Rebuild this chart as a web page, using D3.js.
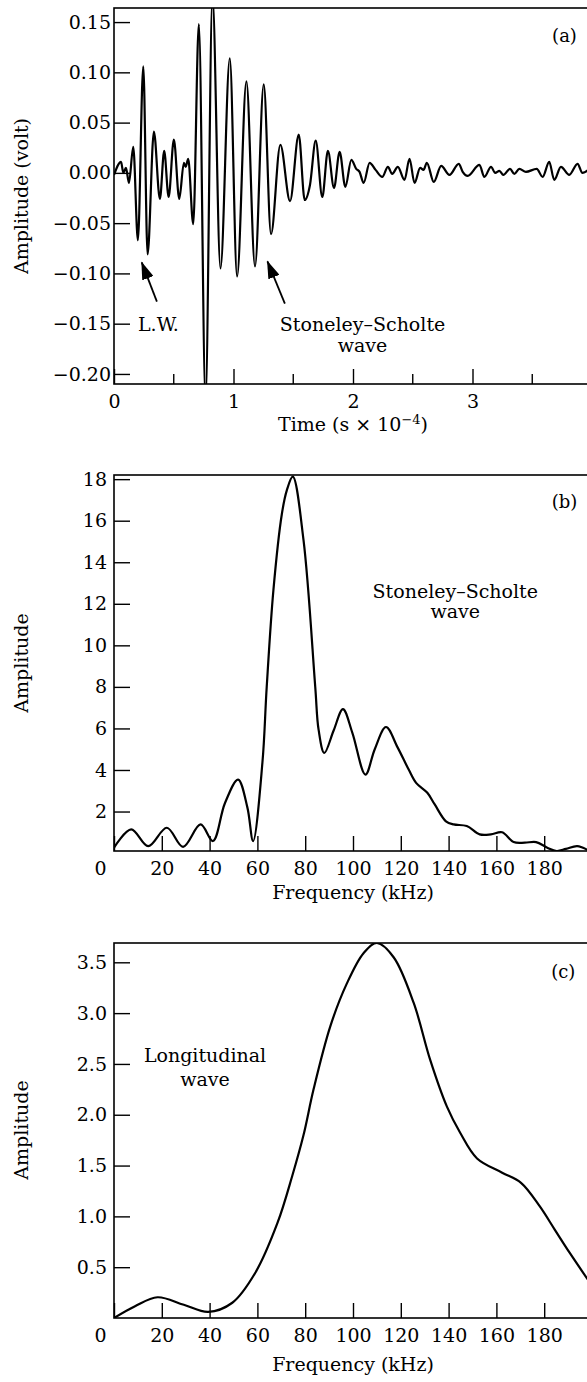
<!DOCTYPE html>
<html lang="en">
<meta charset="utf-8">
<head>
    <script src="https://d3js.org/d3.v7.min.js"></script>
    <style>
        body { margin: 0; background: #fff; }
        text { font-family: "DejaVu Serif", serif; fill: #000; }
    </style>
</head>
<body>
<script>

// panel (a): waveform, time in units of 1e-4 s, amplitude in volt (extrema)
const timeA = [0.0, 0.059, 0.078, 0.10, 0.125, 0.161, 0.20, 0.245, 0.281, 0.334, 0.384, 0.42, 0.457, 0.501, 0.546,
    0.585, 0.60, 0.621, 0.663, 0.710, 0.766, 0.824, 0.891, 0.969, 1.03, 1.108, 1.18, 1.253, 1.314, 1.392,
    1.473, 1.546, 1.596, 1.64, 1.688, 1.743, 1.79, 1.841, 1.888, 1.936, 1.986, 2.027, 2.055, 2.089, 2.139,
    2.189, 2.245, 2.292, 2.328, 2.375, 2.431, 2.473, 2.515, 2.562, 2.59, 2.618, 2.676, 2.738, 2.807, 2.885,
    2.918, 2.96, 3.058, 3.099, 3.155, 3.19, 3.225, 3.258, 3.314, 3.35, 3.392, 3.447, 3.537, 3.587, 3.642,
    3.684, 3.74, 3.81, 3.879, 3.92, 3.97];
const voltA = [-0.002, 0.011, 0.0, 0.005, -0.010, 0.026, -0.067, 0.106, -0.081, 0.041, -0.026, 0.022, -0.024, 0.033, -0.026,
    0.010, 0.006, 0.014, -0.051, 0.148, -0.225, 0.175, -0.095, 0.114, -0.103, 0.091, -0.093, 0.088, -0.061, 0.028,
    -0.028, 0.038, -0.027, -0.012, 0.032, -0.024, 0.022, -0.015, 0.021, -0.014, 0.013, 0.004, 0.001, -0.010, 0.010,
    0.003, -0.004, 0.006, -0.001, 0.006, -0.007, 0.014, -0.010, 0.005, 0.003, 0.010, -0.009, 0.007, -0.002, 0.009,
    0.001, -0.003, 0.008, -0.004, 0.006, 0.000, 0.002, -0.002, 0.004, -0.001, 0.004, 0.001, 0.004, -0.004, 0.011,
    -0.007, 0.006, -0.002, 0.009, 0.000, 0.003];

// panel (b): spectrum of the Stoneley-Scholte wave
const freqB = [0, 7.2, 14.3, 22.1, 28.9, 36.2, 41.4, 46.4, 51.9, 55.8, 58.2, 62.1, 63.9, 66.7, 70.2, 72.3, 74.8,
    79.3, 84.2, 85.6, 88, 91.9, 95.8, 99.7, 105.2, 109.1, 113.8, 118.6, 123.3, 126.4, 131.1, 134.2, 138.9,
    142.1, 147.6, 153, 157.7, 162.4, 167.2, 171.9, 176.6, 181.3, 185.2, 189.1, 193.8, 198.2];
const ampB = [0.26, 1.14, 0.33, 1.22, 0.30, 1.38, 0.58, 2.4, 3.54, 2.2, 0.58, 4.35, 8.0, 12.66, 16.3, 17.46, 18.12,
    15.06, 8.0, 5.94, 4.82, 5.9, 6.93, 5.8, 3.78, 5.0, 6.07, 5.1, 4.02, 3.38, 2.9, 2.34, 1.53,
    1.38, 1.3, 0.9, 0.9, 1.0, 0.53, 0.5, 0.53, 0.26, 0.1, 0.2, 0.33, 0.15];

// panel (c): spectrum of the longitudinal wave
const freqC = [0, 8.8, 18.2, 29.2, 39.4, 49.5, 59, 68.4, 74.6, 79.3, 83.5, 90.5, 97.4, 104.4, 110, 117, 125.4,
    132.3, 139.3, 144.9, 151.9, 162.4, 170.3, 178.1, 184.4, 190.7, 198.2];
const ampC = [0.0, 0.116, 0.204, 0.13, 0.06, 0.15, 0.44, 0.935, 1.40, 1.80, 2.25, 2.87, 3.29, 3.59, 3.69, 3.55, 3.10,
    2.54, 2.08, 1.82, 1.57, 1.43, 1.33, 1.10, 0.87, 0.64, 0.38];

// ticks
const ticksAx = [0, 1, 2, 3];
const minorAx = [0.5, 1.5, 2.5, 3.5];
const ticksAy = [-0.20, -0.15, -0.10, -0.05, 0.00, 0.05, 0.10, 0.15];
const ticksFreq = [0, 20, 40, 60, 80, 100, 120, 140, 160, 180];
const ticksBy = [2, 4, 6, 8, 10, 12, 14, 16, 18];
const ticksCy = [0.5, 1.0, 1.5, 2.0, 2.5, 3.0, 3.5];

const width = 587, height = 1382;
const left = 114, right = 592;
const tickFont = 19, textFont = 19;

const svg = d3.select("body").append("svg")
    .attr("width", width)
    .attr("height", height);

const defs = svg.append("defs");
defs.append("marker")
    .attr("id", "head")
    .attr("markerUnits", "userSpaceOnUse")
    .attr("viewBox", "0 0 18 12")
    .attr("refX", 17).attr("refY", 6)
    .attr("markerWidth", 18).attr("markerHeight", 12)
    .attr("orient", "auto")
    .append("path")
    .attr("d", "M0,0 L18,6 L0,12 Z")
    .attr("fill", "#000");

// draws one framed panel, returns the scales
function panel(id, xDomain, yDomain, top, bottom, xTicks, yTicks, yFmt, yPad, shiftZero) {
    const x = d3.scaleLinear().domain(xDomain).range([left, right]);
    const y = d3.scaleLinear().domain(yDomain).range([bottom, top]);
    const g = svg.append("g");

    defs.append("clipPath").attr("id", "clip" + id)
        .append("rect")
        .attr("x", left).attr("y", top)
        .attr("width", right - left).attr("height", bottom - top);

    g.append("g")
        .attr("transform", `translate(${left},0)`)
        .call(d3.axisLeft(y).tickValues(yTicks).tickFormat(yFmt).tickSize(-16).tickPadding(yPad))
        .call(a => a.select(".domain").remove())
        .call(a => a.selectAll("line").attr("stroke-width", 1.4))
        .call(a => a.selectAll("text").attr("font-size", tickFont).attr("font-family", "DejaVu Serif"));

    g.append("g")
        .attr("transform", `translate(0,${bottom})`)
        .call(d3.axisBottom(x).tickValues(xTicks).tickFormat(d3.format("d")).tickSize(-15).tickPadding(11))
        .call(a => a.select(".domain").remove())
        .call(a => a.selectAll("line").attr("stroke-width", 1.4))
        .call(a => a.selectAll("text").attr("font-size", tickFont).attr("font-family", "DejaVu Serif")
            .attr("dx", d => (shiftZero && d === 0) ? -14 : 0));

    g.append("rect")
        .attr("x", left).attr("y", top)
        .attr("width", right - left).attr("height", bottom - top)
        .attr("fill", "none")
        .attr("stroke", "#000")
        .attr("stroke-width", 1.6);

    return {id, x, y, g};
}

function curve(p, xs, ys, c) {
    p.g.append("path")
        .datum(xs.map((d, i) => [d, ys[i]]))
        .attr("clip-path", `url(#clip${p.id})`)
        .attr("fill", "none")
        .attr("stroke", "#000")
        .attr("stroke-width", 2.2)
        .attr("stroke-linejoin", "round")
        .attr("d", d3.line().x(d => p.x(d[0])).y(d => p.y(d[1])).curve(c));
}

function label(p, xv, yv, txt, size) {
    p.g.append("text")
        .attr("x", p.x(xv)).attr("y", p.y(yv))
        .attr("text-anchor", "middle")
        .attr("font-size", size || textFont)
        .text(txt);
}

function yTitle(cy, txt) {
    svg.append("text")
        .attr("transform", `translate(28,${cy}) rotate(-90)`)
        .attr("text-anchor", "middle")
        .attr("font-size", textFont)
        .text(txt);
}

function xTitle(y, txt) {
    return svg.append("text")
        .attr("x", 353).attr("y", y)
        .attr("text-anchor", "middle")
        .attr("font-size", textFont)
        .text(txt);
}

// ---- (a)
const pa = panel("a", [0, 4], [-0.21, 0.164], 8, 384, ticksAx, ticksAy, d3.format(".2f"), 3, false);
pa.g.append("g")
    .selectAll("line")
    .data(minorAx)
    .join("line")
    .attr("x1", d => pa.x(d)).attr("x2", d => pa.x(d))
    .attr("y1", pa.y(-0.21)).attr("y2", pa.y(-0.21) - 10)
    .attr("stroke", "#000").attr("stroke-width", 1.4);
curve(pa, timeA, voltA, d3.curveMonotoneX);
label(pa, 3.77, 0.13, "(a)", 18);
label(pa, 0.372, -0.157, "L.W.");
label(pa, 2.08, -0.157, "Stoneley–Scholte");
label(pa, 2.08, -0.178, "wave");

const arrows = [
    {x1: 0.359, y1: -0.128, x2: 0.232, y2: -0.089},
    {x1: 1.43, y1: -0.130, x2: 1.284, y2: -0.088}
];
pa.g.selectAll(".arrow")
    .data(arrows)
    .join("line")
    .attr("x1", d => pa.x(d.x1)).attr("y1", d => pa.y(d.y1))
    .attr("x2", d => pa.x(d.x2)).attr("y2", d => pa.y(d.y2))
    .attr("stroke", "#000").attr("stroke-width", 1.8)
    .attr("marker-end", "url(#head)");

const tA = xTitle(431, "");
tA.append("tspan").text("Time (s × 10");
tA.append("tspan").attr("dy", -7).attr("font-size", 13).text("−4");
tA.append("tspan").attr("dy", 7).text(")");
yTitle(196, "Amplitude (volt)");

// ---- (b)
const pb = panel("b", [0, 200], [0.1, 18.2], 475, 851, ticksFreq, ticksBy, d3.format("d"), 7, true);
curve(pb, freqB, ampB, d3.curveCatmullRom.alpha(0.5));
label(pb, 188.5, 16.6, "(b)", 18);
label(pb, 142.8, 12.3, "Stoneley–Scholte");
label(pb, 142.8, 11.3, "wave");
xTitle(899, "Frequency (kHz)");
yTitle(663, "Amplitude");

// ---- (c)
const pc = panel("c", [0, 200], [0, 3.69], 943, 1318, ticksFreq, ticksCy, d3.format(".1f"), 7, true);
curve(pc, freqC, ampC, d3.curveCatmullRom.alpha(0.5));
label(pc, 188, 3.35, "(c)", 18);
label(pc, 38.1, 2.52, "Longitudinal");
label(pc, 38.1, 2.28, "wave");
xTitle(1371, "Frequency (kHz)");
yTitle(1130, "Amplitude");

</script>
</body>
</html>
